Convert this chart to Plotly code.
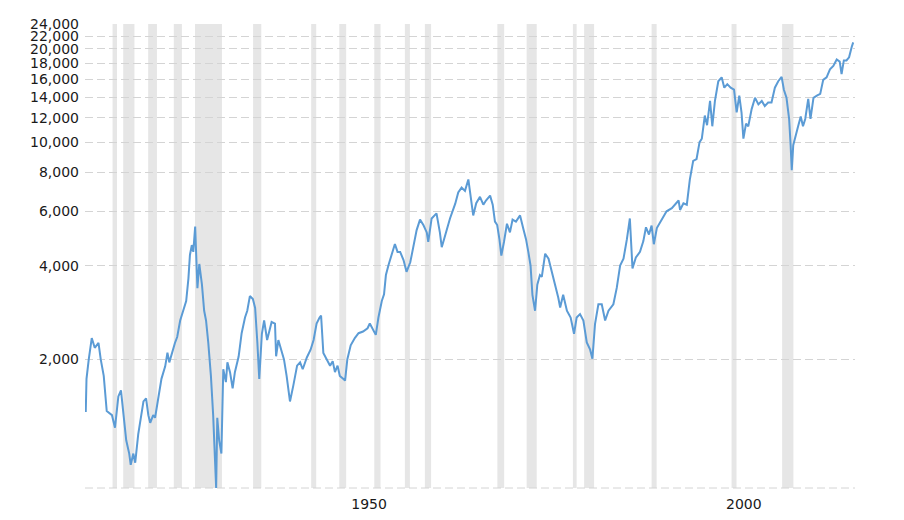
import plotly.graph_objects as go
import math

# Dow Jones Industrial Average, inflation adjusted (approx. readings from chart)
years = [
    1915.0, 1915.1, 1915.4, 1915.8, 1916.2, 1916.7, 1917.0, 1917.4, 1917.8, 1918.5,
    1918.9, 1919.35, 1919.7, 1920.0, 1920.4, 1920.8, 1921.0, 1921.35, 1921.6, 1922.0,
    1922.5, 1922.7, 1923.05, 1923.35, 1923.6, 1924.0, 1924.25, 1924.7, 1925.1, 1925.6,
    1925.9, 1926.15, 1926.5, 1926.9, 1927.2, 1927.6, 1928.0, 1928.4, 1928.7, 1928.9,
    1929.15, 1929.35, 1929.6, 1929.9, 1930.15, 1930.5, 1930.8, 1931.05, 1931.35, 1931.7,
    1932.0, 1932.25, 1932.4, 1932.55, 1932.8, 1933.1, 1933.35, 1933.7, 1933.9, 1934.25,
    1934.6, 1934.9, 1935.4, 1935.8, 1936.25, 1936.55, 1936.9, 1937.3, 1937.6, 1937.9,
    1938.15, 1938.5, 1938.8, 1939.2, 1939.8, 1940.25, 1940.4, 1940.7, 1941.15, 1941.45,
    1941.8, 1942.25, 1942.7, 1943.2, 1943.6, 1943.95, 1944.5, 1945.0, 1945.4, 1945.8,
    1946.2, 1946.4, 1946.7, 1947.15, 1947.6, 1947.95, 1948.25, 1948.6, 1948.9, 1949.35,
    1949.6, 1949.9, 1950.35, 1950.9, 1951.4, 1952.0, 1952.6, 1952.9, 1953.4, 1953.7,
    1954.05, 1954.5, 1954.8, 1955.05, 1955.4, 1955.8, 1956.25, 1956.6, 1956.95, 1957.4,
    1957.8, 1958.3, 1958.8, 1959.15, 1959.6, 1960.05, 1960.5, 1960.7, 1961.15, 1961.8,
    1962.25, 1962.5, 1962.8, 1963.15, 1963.6, 1964.3, 1964.7, 1965.15, 1965.6, 1966.05,
    1966.35, 1966.7, 1967.1, 1967.6, 1968.05, 1968.4, 1968.95, 1969.3, 1969.6, 1969.9,
    1970.2, 1970.45, 1970.8, 1971.2, 1971.6, 1971.95, 1972.4, 1972.95, 1973.4, 1973.75,
    1974.05, 1974.35, 1974.6, 1974.95, 1975.25, 1975.6, 1975.85, 1976.3, 1976.75, 1977.2,
    1977.6, 1978.05, 1978.3, 1978.7, 1979.2, 1979.7, 1980.15, 1980.5, 1980.95, 1981.4,
    1981.85, 1982.3, 1982.6, 1982.95, 1983.4, 1983.85, 1984.3, 1984.75, 1985.4, 1985.85,
    1986.3, 1986.75, 1987.2, 1987.6, 1987.95, 1988.4, 1988.95, 1989.4, 1989.75, 1990.15,
    1990.5, 1990.8, 1991.2, 1991.85, 1992.5, 1993.2, 1994.1, 1994.3, 1994.75, 1995.2,
    1995.6, 1996.05, 1996.5, 1996.9, 1997.2, 1997.6, 1997.9, 1998.3, 1998.6, 1998.95,
    1999.4, 1999.85, 2000.2, 2000.6, 2001.05, 2001.5, 2001.85, 2002.2, 2002.5, 2002.75,
    2003.1, 2003.4, 2003.85, 2004.3, 2004.75, 2005.2, 2005.6, 2006.05, 2006.5, 2006.95,
    2007.4, 2007.85, 2008.15, 2008.5, 2008.85, 2009.05, 2009.2, 2009.4, 2009.7, 2010.05,
    2010.4, 2010.7, 2011.0, 2011.4, 2011.7, 2012.1, 2012.55, 2013.0, 2013.4, 2013.85,
    2014.3, 2014.75, 2015.2, 2015.6, 2015.85, 2016.15, 2016.5, 2016.85, 2017.2, 2017.4,
]
values = [
    1354, 1732, 2000, 2344, 2180, 2260, 2000, 1770, 1364, 1323,
    1206, 1520, 1590, 1323, 1098, 995, 916, 995, 930, 1147,
    1392, 1465, 1498, 1323, 1250, 1323, 1298, 1498, 1732, 1900,
    2102, 1957, 2102, 2260, 2362, 2670, 2870, 3084, 3650, 4340,
    4670, 4440, 5360, 3390, 4060, 3490, 2870, 2670, 2260, 1770,
    1323, 972, 771, 1298, 1098, 995, 1860, 1690, 1957, 1820,
    1615, 1820, 2044, 2430, 2730, 2870, 3200, 3130, 2930, 2260,
    1732, 2420, 2670, 2310, 2640, 2610, 2048, 2310, 2100, 2000,
    1770, 1465, 1650, 1910, 1957, 1860, 2030, 2150, 2310, 2610,
    2730, 2770, 2100, 2000, 1910, 1975, 1820, 1910, 1770, 1732,
    1710, 2000, 2220, 2344, 2430, 2460, 2520, 2610, 2480, 2400,
    2730, 3084, 3240, 3740, 4030, 4380, 4710, 4440, 4440, 4180,
    3830, 4110, 4780, 5220, 5640, 5420, 5130, 4780, 5690, 5910,
    5130, 4600, 4870, 5250, 5690, 6350, 6900, 7150, 6980, 7600,
    6740, 5820, 6370, 6680, 6300, 6500, 6740, 6300, 5560, 5420,
    4870, 4320, 4780, 5470, 5130, 5640, 5560, 5820, 5250, 4870,
    4440, 4010, 3230, 2870, 3480, 3740, 3690, 4380, 4220, 3830,
    3480, 3160, 2940, 3230, 2870, 2730, 2420, 2730, 2800, 2670,
    2270, 2150, 2010, 2600, 3010, 3010, 2670, 2870, 3010, 3400,
    4010, 4220, 4870, 5690, 3930, 4260, 4440, 4810, 5330, 5050,
    5400, 4700, 5300, 5640, 6000, 6140, 6500, 6060, 6370, 6300,
    7590, 8720, 8840, 10020, 10280, 12200, 11360, 13600, 11270, 13600,
    15740, 16200, 15000, 15400, 15000, 14780, 12500, 14150, 12480, 10280,
    11500, 11270, 12800, 13920, 13260, 13600, 13090, 13440, 13440, 15000,
    15740, 16250, 14780, 13920, 11900, 9800, 8140, 9800, 10550, 11270,
    12120, 11270, 11900, 13800, 11900, 13920, 14150, 14330, 15900, 16200,
    17200, 17640, 18500, 18200, 16600, 18360, 18360, 18800, 20300, 21000,
]

# US recessions (NBER), decimal years
recession_start = [1918.58, 1920.0, 1923.33, 1926.75, 1929.58, 1937.33, 1945.08, 1948.83,
                   1953.5, 1957.58, 1960.25, 1969.92, 1973.83, 1980.0, 1981.5, 1990.5,
                   2001.17, 2007.92]
recession_end = [1919.17, 1921.5, 1924.5, 1927.83, 1933.17, 1938.42, 1945.75, 1949.75,
                 1954.33, 1958.25, 1961.08, 1970.83, 1975.17, 1980.5, 1982.83, 1991.17,
                 2001.83, 2009.42]

y_ticks = [2000, 4000, 6000, 8000, 10000, 12000, 14000, 16000, 18000, 20000, 22000, 24000]
x_ticks = [1950, 2000]
x_tick_labels = ["1950", "2000"]

font_family = "DejaVu Sans, Verdana, sans-serif"
line_color = "#5b9bd5"
band_color = "#e6e6e6"
grid_color = "#d4d4d4"

fig = go.Figure()
fig.add_trace(go.Scatter(
    x=years, y=values, mode="lines",
    line=dict(color=line_color, width=2),
    hoverinfo="x+y", showlegend=False,
))

shapes = []
for s, e in zip(recession_start, recession_end):
    shapes.append(dict(type="rect", xref="x", yref="paper", x0=s, x1=e, y0=0, y1=1,
                       fillcolor=band_color, line=dict(width=0), layer="below"))
# bottom dashed baseline
shapes.append(dict(type="line", xref="paper", yref="paper", x0=0, x1=1, y0=0, y1=0,
                   line=dict(color=grid_color, width=1, dash="8px,4px"), layer="below"))
# page-edge artifacts at the right border
shapes.append(dict(type="line", xref="paper", yref="paper", x0=1.0595, x1=1.0595,
                   y0=1.02, y1=0.744, line=dict(color="#b0b0b0", width=1)))
shapes.append(dict(type="rect", xref="paper", yref="paper", x0=1.056, x1=1.063,
                   y0=0.7038, y1=0.7437, fillcolor="#7a1f1f", line=dict(width=0)))
shapes.append(dict(type="line", xref="paper", yref="paper", x0=1.0595, x1=1.0595,
                   y0=0.6597, y1=-0.05, line=dict(color="#000000", width=1.5)))

fig.update_layout(
    width=896, height=512,
    margin=dict(l=77, r=49, t=8, b=28),
    paper_bgcolor="white", plot_bgcolor="white",
    font=dict(family=font_family, size=14, color="#1a1a1a"),
    shapes=shapes,
    showlegend=False,
)
fig.update_xaxes(
    range=[1914.9, 2017.64],
    tickvals=x_ticks, ticktext=x_tick_labels,
    ticklabelshift=21, ticklabelstandoff=6,
    showgrid=False, zeroline=False, showline=False, ticks="",
)
fig.update_yaxes(
    type="log",
    range=[math.log10(771), math.log10(24060)],
    tickvals=y_ticks, tickformat=",",
    ticklabelstandoff=5,
    showgrid=True, gridcolor=grid_color, griddash="8px,4px", gridwidth=1,
    zeroline=False, showline=False, ticks="",
)

fig.write_html("out.html")
